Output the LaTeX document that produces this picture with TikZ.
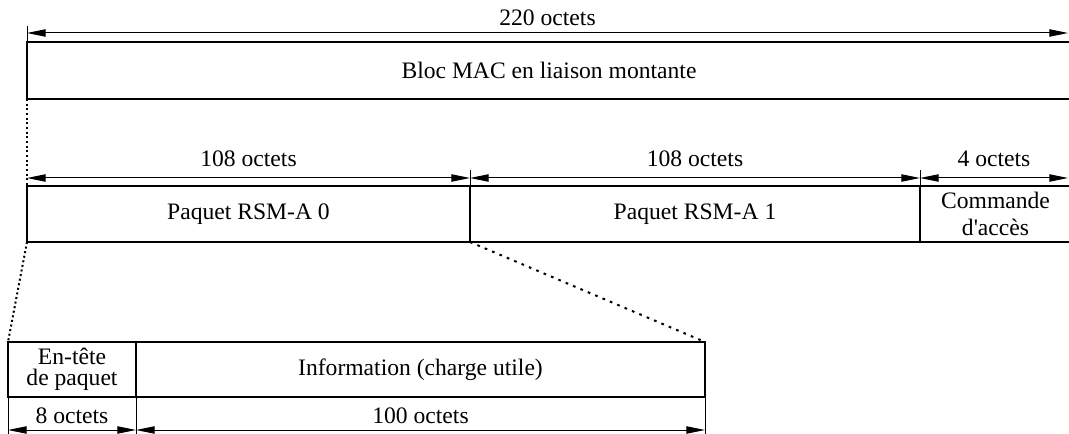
\documentclass[tikz,border=0pt]{standalone}
\usepackage{fontspec}
\setmainfont{Liberation Serif}
\usetikzlibrary{arrows.meta,positioning}
\tikzset{every picture/.style={line width=0.75pt}}
\tikzset{
  blk/.style={draw, rectangle, line width=1.5pt, inner sep=0pt, outer sep=0pt, anchor=north west, align=center, font=\fontsize{17.7}{20}\selectfont},
  dimline/.style={line width=0.75pt, {Triangle[length=14pt,width=5.5pt]}-{Triangle[length=14pt,width=5.5pt]}},
  extline/.style={line width=0.5pt},
  dimlabel/.style={inner sep=0pt, font=\fontsize{17.7}{20}\selectfont},
  zoomline/.style={line width=1.5pt, dotted},
}

\begin{document}
\begin{tikzpicture}[x=0.75pt,y=0.75pt,yscale=-1,xscale=1]
\useasboundingbox (0,0) rectangle (1069,434);

%Blocks
\node[blk, minimum width=783pt, minimum height=42.75pt] (mac) at (27,42) {Bloc MAC en liaison montante};
\node[blk, minimum width=332.25pt, minimum height=42pt] (rsm0) at (27,186) {Paquet RSM-A 0};
\node[blk, minimum width=337.5pt, minimum height=42pt] (rsm1) at (rsm0.north east) {Paquet RSM-A 1};
\node[blk, minimum width=113.25pt, minimum height=42pt] (cmd) at (rsm1.north east) {Commande\\d\textquotesingle accès};
\node[blk, minimum width=96pt, minimum height=41.25pt] (hdr) at (8,342) {En-tête\\[-4pt]de paquet};
\node[blk, minimum width=426.75pt, minimum height=41.25pt] (info) at (hdr.north east) {Information (charge utile)};

%Zoom lines
\draw[zoomline] (mac.south west) -- (rsm0.north west);
\draw[zoomline] (rsm0.south west) -- (hdr.north west);
\draw[zoomline, dash pattern=on 2pt off 4pt] (rsm0.south east) -- (info.north east);

%Extension lines
\coordinate (emac) at (27,26);
\coordinate (ersm1) at (470,170);
\coordinate (ecmd) at (920,170);
\coordinate (ehdr) at (8,434);
\coordinate (einfo) at (136,434);
\coordinate (eend) at (705,434);
\draw[extline] (mac.north west) -- (emac);
\draw[extline] (rsm1.north west) -- (ersm1);
\draw[extline] (cmd.north west) -- (ecmd);
\draw[extline] (hdr.south west) -- (ehdr);
\draw[extline] (info.south west) -- (einfo);
\draw[extline] (info.south east) -- (eend);

%Dimension lines
\coordinate (d0) at (27,33);
\coordinate (d1) at (1068,33);
\draw[dimline] (d0) -- node[dimlabel, above=5pt] {220 octets} (d1);

\coordinate (m0) at (27,178);
\coordinate (m1) at (470,178);
\coordinate (m2) at (920,178);
\coordinate (m3) at (1068,178);
\draw[dimline] (m0) -- node[dimlabel, above=8pt] {108 octets} (m1);
\draw[dimline] (m1) -- node[dimlabel, above=8pt] {108 octets} (m2);
\draw[dimline] (m2) -- node[dimlabel, above=8pt] {4 octets} (m3);

\coordinate (b0) at (8,430);
\coordinate (b1) at (136,430);
\coordinate (b2) at (705,430);
\draw[dimline] (b0) -- node[dimlabel, above=4.5pt] {8 octets} (b1);
\draw[dimline] (b1) -- node[dimlabel, above=4.5pt] {100 octets} (b2);

\end{tikzpicture}
\end{document}
